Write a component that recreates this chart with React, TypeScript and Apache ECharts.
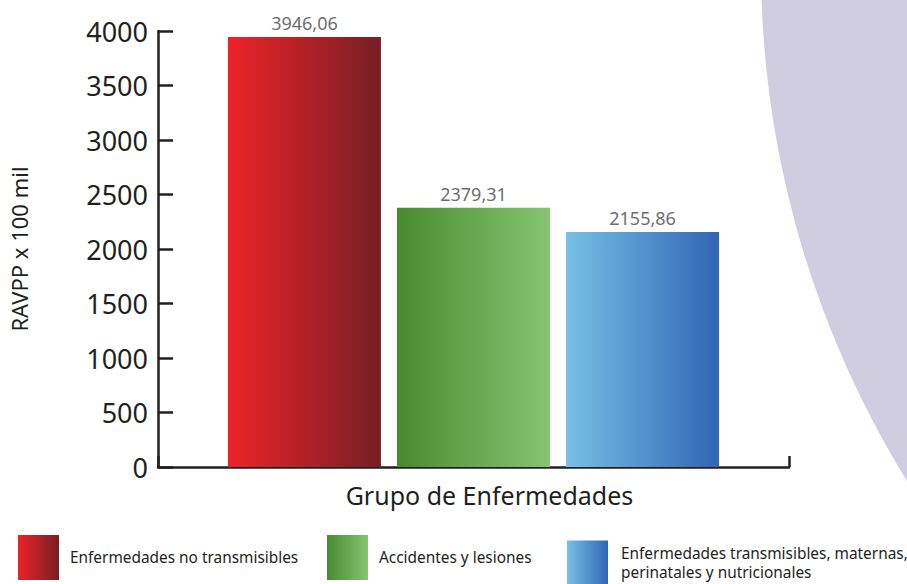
import React, { useEffect, useRef } from "react";
import * as echarts from "echarts";

const categories = [""];
const seriesNames = [
  "Enfermedades no transmisibles",
  "Accidentes y lesiones",
  "Enfermedades transmisibles, maternas, perinatales y nutricionales",
];
const seriesValues = [3946.06, 2379.31, 2155.86];
const gradientStops = [
  ["#ee2229", "#761f24"],
  ["#488b2e", "#84c671"],
  ["#76c0e6", "#3166b3"],
];
const yMin = 0;
const yMax = 4000;
const yInterval = 500;
const xAxisName = "Grupo de Enfermedades";
const yAxisName = "RAVPP x 100 mil";
const legendLabels = [
  "Enfermedades no transmisibles",
  "Accidentes y lesiones",
  "Enfermedades transmisibles, maternas,\nperinatales y nutricionales",
];

const FONT = "'Noto Sans', sans-serif";
const INK = "#231f20";

export default function App() {
  const ref = useRef<HTMLDivElement>(null);
  useEffect(() => {
    if (!ref.current) return;
    const chart = echarts.init(ref.current, undefined, { renderer: "svg" });
    const legendLefts = [18, 327, 567];
    const option: any = {
      animation: false,
      backgroundColor: "#ffffff",
      textStyle: { fontFamily: FONT },
      graphic: [
        {
          type: "circle",
          z: -10,
          silent: true,
          shape: { cx: 1739, cy: -33, r: 978 },
          style: { fill: "#cfcddf" },
        },
      ],
      grid: { left: 156, right: 118, top: 31, bottom: 117, containLabel: false },
      legend: seriesNames.map((n, i) => ({
        data: [n],
        left: legendLefts[i],
        top: 535,
        padding: 0,
        itemWidth: 41,
        itemHeight: 45,
        icon: "rect",
        selectedMode: false,
        formatter: () => legendLabels[i],
        textStyle: {
          fontFamily: FONT,
          fontSize: 15.4,
          color: INK,
          lineHeight: 19,
          padding: i === 2 ? [18, 0, 0, 8] : [0, 0, 0, 6],
        },
      })),
      xAxis: {
        type: "category",
        data: categories,
        name: xAxisName,
        nameLocation: "middle",
        nameGap: 15,
        nameTextStyle: { fontFamily: FONT, fontSize: 25, color: INK, padding: [0, 0, 0, 32] },
        axisLine: { show: true, lineStyle: { color: INK, width: 2.5 } },
        axisTick: { show: true, inside: true, length: 11, lineStyle: { color: INK, width: 2.5 } },
        axisLabel: { show: false },
        splitLine: { show: false },
      },
      yAxis: {
        type: "value",
        min: yMin,
        max: yMax,
        interval: yInterval,
        name: yAxisName,
        nameLocation: "middle",
        nameRotate: 90,
        nameGap: 128,
        nameTextStyle: { fontFamily: FONT, fontSize: 22, color: INK },
        axisLine: { show: true, lineStyle: { color: INK, width: 2.5 } },
        axisTick: { show: true, inside: true, length: 15, lineStyle: { color: INK, width: 2.5 } },
        axisLabel: {
          fontFamily: FONT,
          fontSize: 27,
          color: INK,
          margin: 10,
          formatter: (v: number) => String(v),
        },
        splitLine: { show: false },
      },
      series: seriesNames.map((n, i) => ({
        name: n,
        type: "bar",
        data: [seriesValues[i]],
        barWidth: 153,
        barGap: "10.5%",
        itemStyle: {
          color: new echarts.graphic.LinearGradient(0, 0, 1, 0, [
            { offset: 0, color: gradientStops[i][0] },
            { offset: 1, color: gradientStops[i][1] },
          ]),
        },
        label: {
          show: true,
          position: "top",
          distance: 5,
          fontFamily: FONT,
          fontSize: 18,
          color: "#6d6e71",
          formatter: (p: any) => p.value.toFixed(2).replace(".", ","),
        },
      })),
    };
    chart.setOption(option);
    return () => chart.dispose();
  }, []);
  return (
    <div
      ref={ref}
      style={{ position: "fixed", left: 0, top: 0, width: 907, height: 584 }}
    />
  );
}
